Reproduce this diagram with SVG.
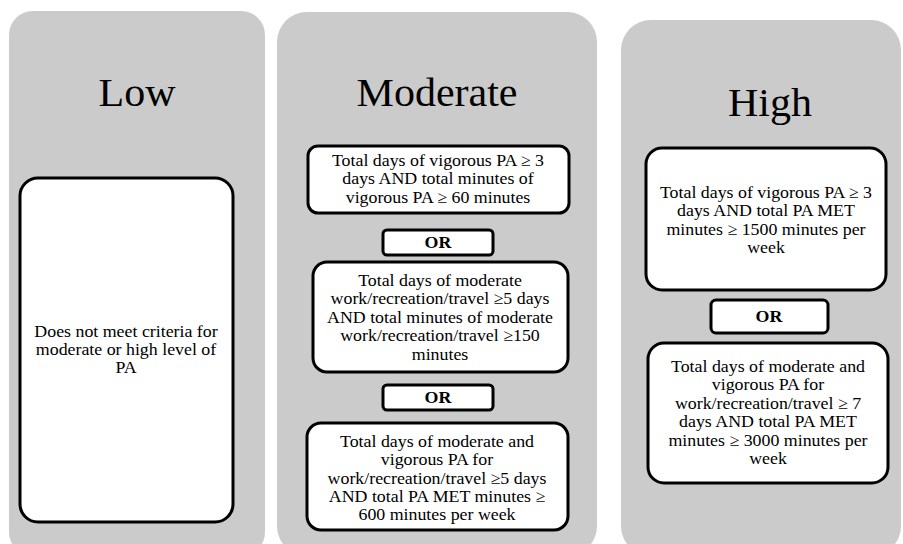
<svg xmlns="http://www.w3.org/2000/svg" width="903" height="544" viewBox="0 0 903 544">
<style>
.panel{fill:#cbcbcb;stroke:none}
.box{fill:#fff;stroke:#000;stroke-width:3}
.title{font-family:"Liberation Serif","Times New Roman",serif;font-size:40px;text-anchor:middle;fill:#000}
.t{font-family:"Liberation Serif","Times New Roman",serif;font-size:17px;text-anchor:middle;fill:#000}
.or{font-family:"Liberation Serif","Times New Roman",serif;font-size:17px;font-weight:bold;text-anchor:middle;fill:#000}
</style>
<rect width="903" height="544" fill="#fff"/>
<g id="panel-low">
<rect class="panel" x="9" y="11" width="256" height="545" rx="24"/>
<text class="title" transform="translate(137,106) scale(1.05,1)">Low</text>
</g>
<g id="panel-moderate">
<rect class="panel" x="277" y="12" width="320" height="544" rx="30"/>
<text class="title" transform="translate(437,106) scale(1.05,1)">Moderate</text>
</g>
<g id="panel-high">
<rect class="panel" x="621" y="20" width="280" height="536" rx="30"/>
<text class="title" transform="translate(770,116) scale(1.05,1)">High</text>
</g>
<g id="low-box">
<rect class="box" x="20" y="178" width="213" height="344" rx="18"/>
<g transform="translate(126,0) scale(1.05,1)">
<text class="t" x="0" y="337">Does not meet criteria for</text>
<text class="t" x="0" y="355">moderate or high level of</text>
<text class="t" x="0" y="373">PA</text>
</g>
</g>
<g id="mod-box1">
<rect class="box" x="308" y="146" width="261" height="67" rx="10"/>
<g transform="translate(438,0) scale(1.05,1)">
<text class="t" x="0" y="166">Total days of vigorous PA ≥ 3</text>
<text class="t" x="0" y="184.5">days AND total minutes of</text>
<text class="t" x="0" y="203">vigorous PA ≥ 60 minutes</text>
</g>
</g>
<g id="mod-or1">
<rect class="box" x="383" y="230" width="110" height="25" rx="4"/>
<text class="or" transform="translate(438,248) scale(1.05,1)">OR</text>
</g>
<g id="mod-box2">
<rect class="box" x="313" y="262" width="255" height="110" rx="14"/>
<g transform="translate(440,0) scale(1.05,1)">
<text class="t" x="0" y="286">Total days of moderate</text>
<text class="t" x="0" y="304.5">work/recreation/travel ≥5 days</text>
<text class="t" x="0" y="323">AND total minutes of moderate</text>
<text class="t" x="0" y="341.5">work/recreation/travel ≥150</text>
<text class="t" x="0" y="360">minutes</text>
</g>
</g>
<g id="mod-or2">
<rect class="box" x="383" y="385" width="110" height="25" rx="4"/>
<text class="or" transform="translate(438,403) scale(1.05,1)">OR</text>
</g>
<g id="mod-box3">
<rect class="box" x="307" y="423" width="261" height="107" rx="14"/>
<g transform="translate(437,0) scale(1.05,1)">
<text class="t" x="0" y="447">Total days of moderate and</text>
<text class="t" x="0" y="465.3">vigorous PA for</text>
<text class="t" x="0" y="483.6">work/recreation/travel ≥5 days</text>
<text class="t" x="0" y="502">AND total PA MET minutes ≥</text>
<text class="t" x="0" y="520">600 minutes per week</text>
</g>
</g>
<g id="high-box1">
<rect class="box" x="646" y="148" width="240" height="142" rx="16"/>
<g transform="translate(766,0) scale(1.05,1)">
<text class="t" x="0" y="198">Total days of vigorous PA ≥ 3</text>
<text class="t" x="0" y="216.3">days AND total PA MET</text>
<text class="t" x="0" y="234.6">minutes ≥ 1500 minutes per</text>
<text class="t" x="0" y="253">week</text>
</g>
</g>
<g id="high-or">
<rect class="box" x="711" y="300" width="117" height="33" rx="5"/>
<text class="or" transform="translate(769,322) scale(1.05,1)">OR</text>
</g>
<g id="high-box2">
<rect class="box" x="648" y="343" width="240" height="140" rx="16"/>
<g transform="translate(768,0) scale(1.05,1)">
<text class="t" x="0" y="372">Total days of moderate and</text>
<text class="t" x="0" y="390.5">vigorous PA for</text>
<text class="t" x="0" y="409">work/recreation/travel ≥ 7</text>
<text class="t" x="0" y="427.5">days AND total PA MET</text>
<text class="t" x="0" y="446">minutes ≥ 3000 minutes per</text>
<text class="t" x="0" y="464.5">week</text>
</g>
</g>
<g id="connectors"></g>
</svg>
